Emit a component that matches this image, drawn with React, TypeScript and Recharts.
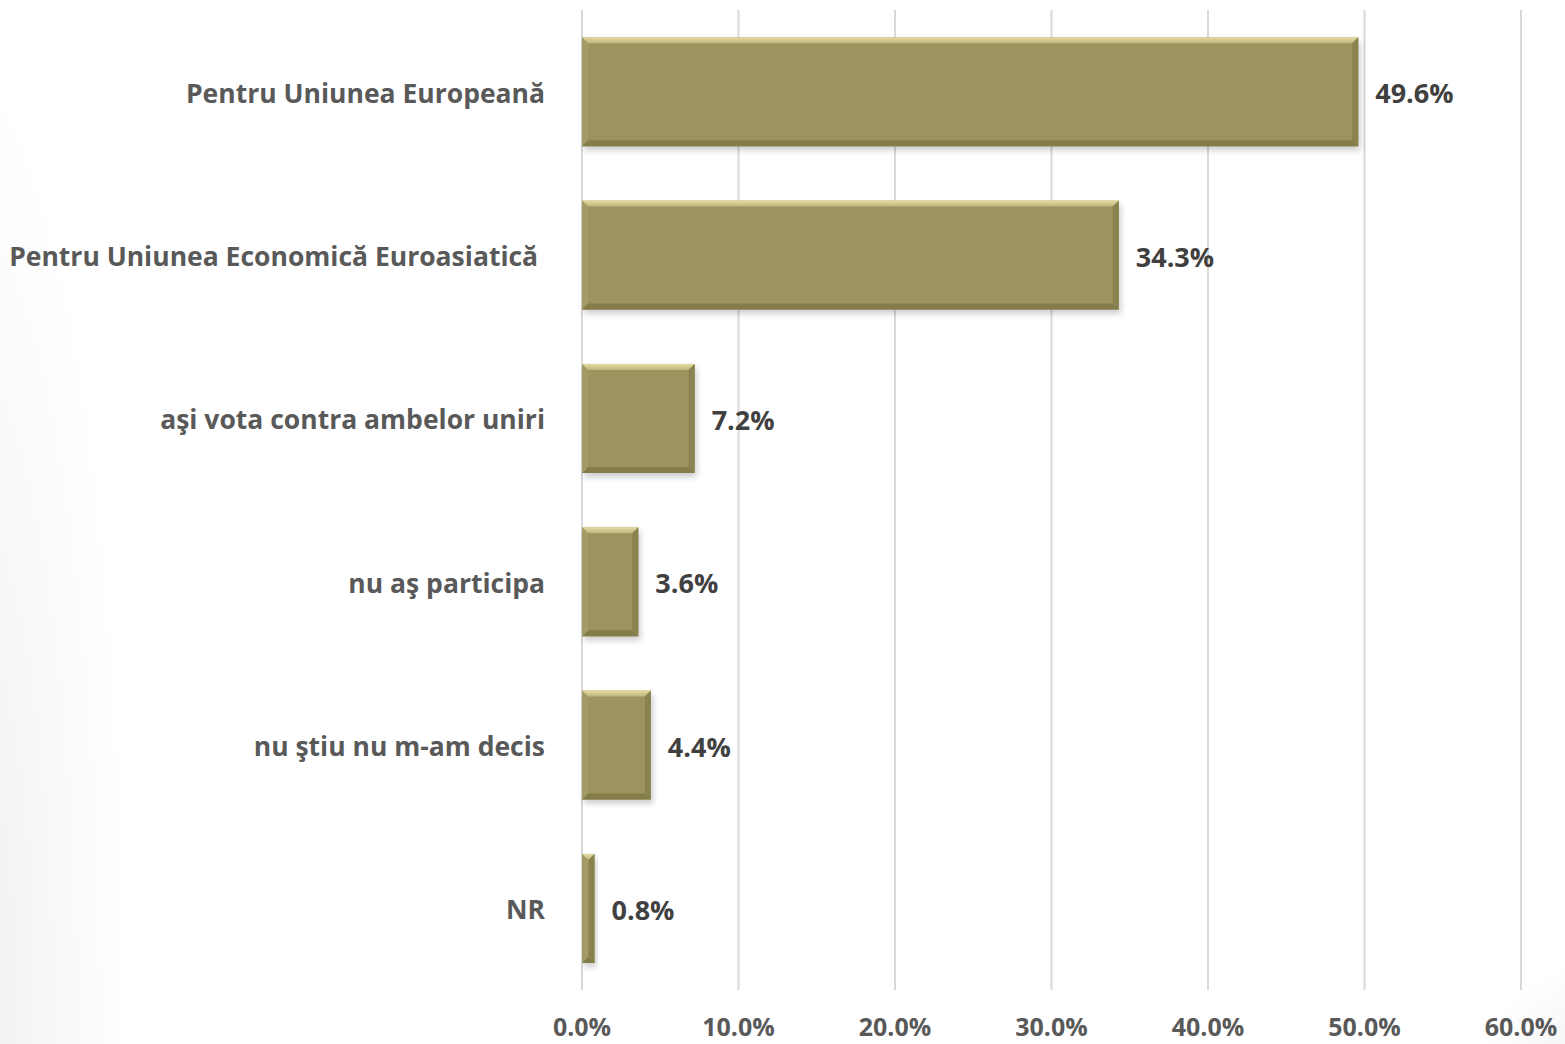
import React from 'react';
import { BarChart, Bar, XAxis, YAxis, CartesianGrid, LabelList } from 'recharts';

const categories = [
  'Pentru Uniunea Europeană',
  'Pentru Uniunea Economică Euroasiatică ',
  'aşi vota contra ambelor uniri',
  'nu aş participa',
  'nu ştiu nu m-am decis',
  'NR',
];
const values = [49.6, 34.3, 7.2, 3.6, 4.4, 0.8];
const xTicks = [0, 10, 20, 30, 40, 50, 60];

const data = categories.map((name, i) => ({ name, value: values[i] }));

const FONT = '"Open Sans", sans-serif';

// bar with a soft bevel look
function BevelBar(props: any) {
  const { x, y, width, height } = props;
  if (!width || width <= 0) return null;
  const b = Math.min(6, width / 2);
  return (
    <g>
      <rect x={x + 2} y={y + 4} width={width} height={height} fill="#000" opacity={0.2} filter="url(#blur)" />
      <rect x={x} y={y} width={width} height={height} fill="#9c945e" />
      <polygon points={`${x},${y} ${x + width},${y} ${x + width - b},${y + b} ${x + b},${y + b}`} fill="url(#topBevel)" />
      <polygon points={`${x},${y + height} ${x + width},${y + height} ${x + width - b},${y + height - b} ${x + b},${y + height - b}`} fill="#847d4b" />
      <polygon points={`${x},${y} ${x + b},${y + b} ${x + b},${y + height - b} ${x},${y + height}`} fill="#a39b66" />
      <polygon points={`${x + width},${y} ${x + width - b},${y + b} ${x + width - b},${y + height - b} ${x + width},${y + height}`} fill="#8a8350" />
    </g>
  );
}

function CategoryTick(props: any) {
  const { y, payload } = props;
  return (
    <text x={545} y={y + 1} xmlSpace="preserve" textAnchor="end" dominantBaseline="central" fill="#595959" fontSize={26.5} fontWeight={700} fontFamily={FONT}>
      {payload.value}
    </text>
  );
}

function PercentTick(props: any) {
  const { x, y, payload } = props;
  return (
    <text x={x} y={y + 28} textAnchor="middle" dominantBaseline="central" fill="#595959" fontSize={25} fontWeight={700} fontFamily={FONT}>
      {payload.value.toFixed(1)}%
    </text>
  );
}

function ValueLabel(props: any) {
  const { x, y, width, height, value } = props;
  return (
    <text x={x + width + 17} y={y + height / 2 + 1} dominantBaseline="central" fill="#404040" fontSize={27} fontWeight={700} fontFamily={FONT}>
      {Number(value).toFixed(1)}%
    </text>
  );
}

export default function App() {
  return (
    <div
      style={{
        position: 'absolute',
        left: 0,
        top: 0,
        width: 1565,
        height: 1044,
        background:
          'radial-gradient(ellipse 170px 1000px at -40px 1040px, #ededed 0%, #f8f8f8 55%, rgba(255,255,255,0) 100%), radial-gradient(ellipse 120px 120px at 1600px 1080px, #f0f0f0 0%, #ffffff 100%)',
      }}
    >
      <BarChart
        width={1565}
        height={1044}
        data={data}
        layout="vertical"
        margin={{ top: 10, right: 44, left: 0, bottom: 0 }}
        barCategoryGap="16.7%"
      >
        <defs>
          <linearGradient id="topBevel" x1="0" y1="0" x2="0" y2="1">
            <stop offset="0%" stopColor="#e6dca0" />
            <stop offset="100%" stopColor="#bdb47e" />
          </linearGradient>
          <filter id="blur" x="-10%" y="-10%" width="120%" height="120%">
            <feGaussianBlur stdDeviation="3" />
          </filter>
        </defs>
        <CartesianGrid horizontal={false} stroke="#d9d9d9" strokeWidth={2} />
        <XAxis
          type="number"
          domain={[0, 60]}
          ticks={xTicks}
          axisLine={false}
          tickLine={false}
          height={54}
          tick={<PercentTick />}
          interval={0}
        />
        <YAxis
          type="category"
          dataKey="name"
          width={582}
          axisLine={false}
          tickLine={false}
          tick={<CategoryTick />}
          interval={0}
        />
        <Bar dataKey="value" shape={<BevelBar />} isAnimationActive={false}>
          <LabelList dataKey="value" content={<ValueLabel />} />
        </Bar>
      </BarChart>
    </div>
  );
}
